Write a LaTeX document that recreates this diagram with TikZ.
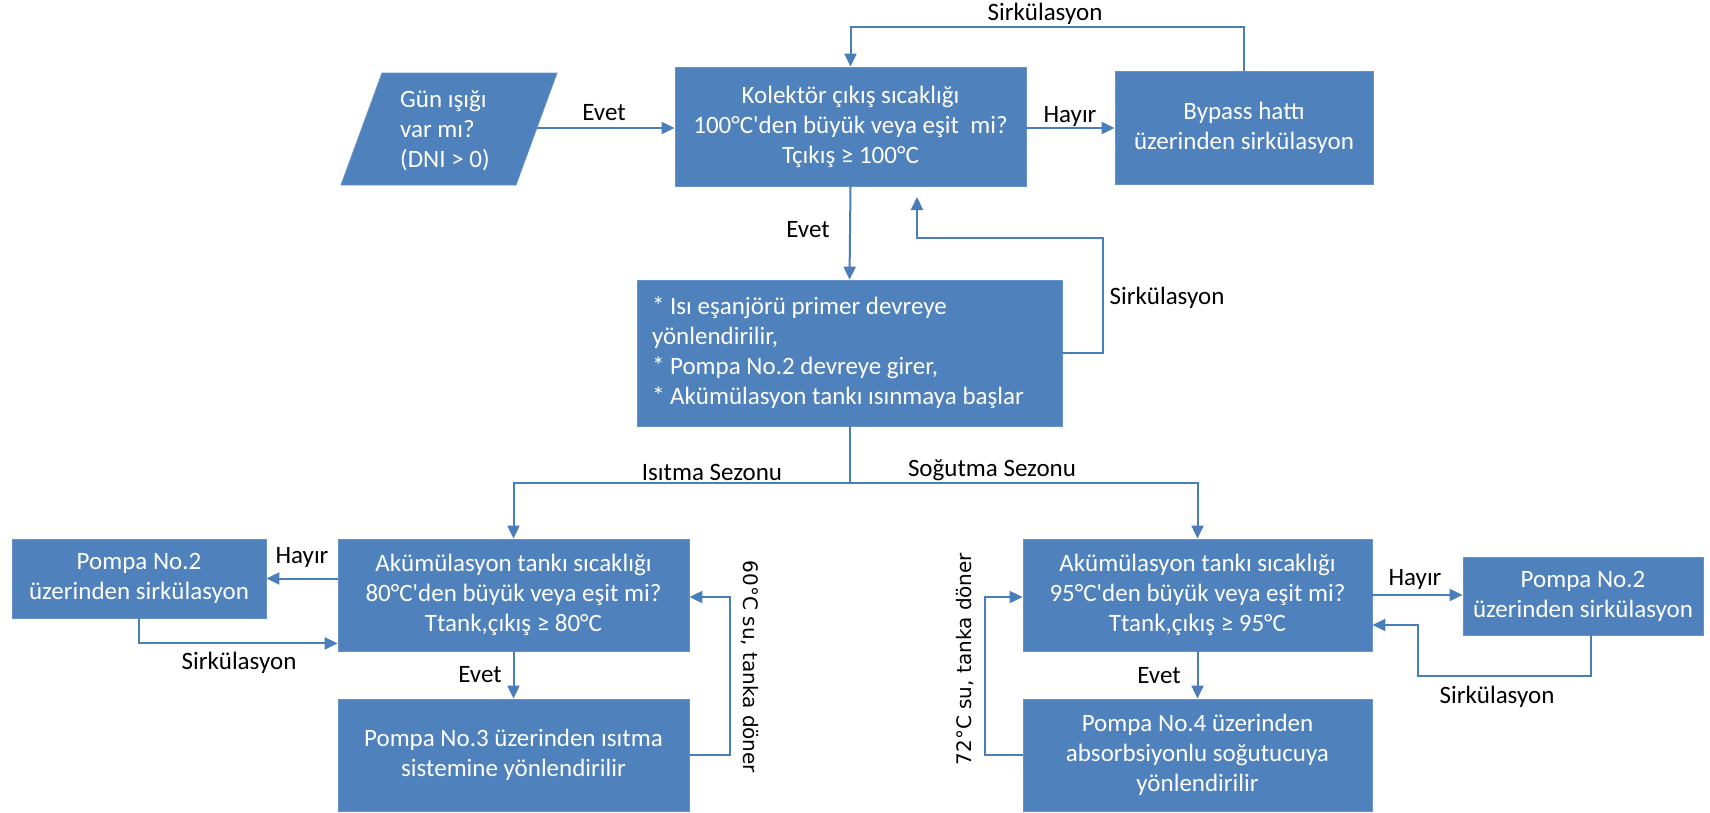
\documentclass[tikz,border=0pt]{standalone}
\usepackage{fontspec}
\setmainfont{Carlito}[Ligatures=TeXOff]
\newfontfamily\dvsans{DejaVu Sans}
\usetikzlibrary{arrows.meta}
\definecolor{boxblue}{HTML}{4F81BD}
\definecolor{boxedge}{HTML}{6792C9}
\definecolor{linkblue}{HTML}{4A7EBB}

\begin{document}
\begin{tikzpicture}[x=1pt,y=-1pt,
  every node/.style={font=\fontsize{25}{30}\selectfont},
  box/.style={fill=boxblue, draw=boxedge, line width=0.8pt, text=white, align=center, inner sep=0pt},
  link/.style={draw=linkblue, line width=2pt},
  conn/.style={link, -{Triangle[length=13pt,width=12pt]}},
  lbl/.style={text=black, inner sep=0pt},
  sidelbl/.style={text=black, inner sep=0pt, font=\dvsans\fontsize{20}{24}\selectfont},
]
% canvas
\fill[white] (0,0) rectangle (1710,812);
\useasboundingbox (0,0) rectangle (1710,812);

% ---- top row ----
\fill[boxblue, draw=boxedge, line width=0.8pt] (382,73) -- (557,73) -- (516,185) -- (341,185) -- cycle;
\coordinate (gun-e) at (537,128);
\node[lbl, text=white, anchor=west, align=left] (gun) at (400,131) {Gün ışığı\\var mı?\\(DNI > 0)};

\node[box, minimum width=351pt, minimum height=119pt] (kol) at (850.5,126.5)
  {Kolektör çıkış sıcaklığı\\100°C'den büyük veya eşit\ \ mi?\\Tçıkış ≥ 100°C};
\node[box, minimum width=258pt, minimum height=113pt] (byp) at (1244,127.5)
  {Bypass hattı\\üzerinden sirkülasyon};

% ---- middle ----
\node[box, text width=395pt, align=flush left, inner xsep=15pt, minimum height=146pt] (mid) at (849.5,353)
  {* Isı eşanjörü primer devreye\\{}yönlendirilir,\\{}* Pompa No.2 devreye girer,\\{}* Akümülasyon tankı ısınmaya başlar};

% ---- heating branch ----
\node[box, minimum width=351pt, minimum height=112pt] (ldec) at (513.5,595)
  {Akümülasyon tankı sıcaklığı\\80°C'den büyük veya eşit mi?\\Ttank,çıkış ≥ 80°C};
\node[box, minimum width=254pt, minimum height=79pt] (lp2) at (139,578.5)
  {Pompa No.2\\üzerinden sirkülasyon};
\node[box, minimum width=351pt, minimum height=112pt] (lp3) at (513.5,755)
  {Pompa No.3 üzerinden ısıtma\\sistemine yönlendirilir};

% ---- cooling branch ----
\node[box, minimum width=349pt, minimum height=112pt] (rdec) at (1197.5,595)
  {Akümülasyon tankı sıcaklığı\\95°C'den büyük veya eşit mi?\\Ttank,çıkış ≥ 95°C};
\node[box, minimum width=240pt, minimum height=78pt] (rp2) at (1583,596)
  {Pompa No.2\\üzerinden sirkülasyon};
\node[box, minimum width=349pt, minimum height=112pt] (rp4) at (1197.5,755)
  {Pompa No.4 üzerinden\\absorbsiyonlu soğutucuya\\yönlendirilir};

% ---- routing points ----
\coordinate (loop-top) at (1244,27);
\coordinate (kol-ret) at (917,197);
\coordinate (mid-loop) at (1103,238);
\coordinate (split) at (849.5,483);
\coordinate (r-loop) at (1418,676);

% ---- connectors ----
\draw[conn] (gun-e) -- (kol.west |- gun-e);
\draw[conn] (kol.east |- 0,128) -- (byp.west |- 0,128);
\draw[conn] (byp.north) -- (loop-top) -| (kol.north);
\draw[conn] (kol.south) -- (mid.north);
\draw[conn] (mid.east) -| (mid-loop) -| (kol-ret);
\draw[link] (mid.south) -- (split);
\draw[conn] (split) -| (ldec.north);
\draw[conn] (split) -| (rdec.north);

\draw[conn] (ldec.west |- lp2.east) -- (lp2.east);
\draw[conn] (lp2.south) |- ([yshift=8pt]ldec.south west);
\draw[conn] (ldec.south) -- (lp3.north);
\draw[conn] (lp3.east) -- ++(41,0) |- ([yshift=-2pt]ldec.east);

\draw[conn] (rdec.east) -- (rdec.east -| rp2.west);
\draw[conn] ([xshift=8pt]rp2.south) |- (r-loop) |- ([yshift=-30pt]rdec.east);
\draw[conn] (rdec.south) -- (rp4.north);
\draw[conn] (rp4.west) -- ++(-38,0) |- ([yshift=-2pt]rdec.west);

% ---- labels ----
\node[lbl] (l-top) at (1045,14) {Sirkülasyon};
\node[lbl] (l-evet1) at (604,113) {Evet};
\node[lbl] (l-hayir1) at (1070,116) {Hayır};
\node[lbl] (l-evet2) at (808,230) {Evet};
\node[lbl] (l-sirk2) at (1167,298) {Sirkülasyon};
\node[lbl] (l-isitma) at (712,472) {Isıtma Sezonu};
\node[lbl] (l-sogutma) at (992,470) {Soğutma Sezonu};
\node[lbl] (l-hayir2) at (302,557) {Hayır};
\node[lbl] (l-sirk3) at (239,663) {Sirkülasyon};
\node[lbl] (l-evet3) at (480,675) {Evet};
\node[sidelbl, rotate=-90] (l-60) at (750,667) {60°C su, tanka döner};
\node[sidelbl, rotate=90] (l-72) at (965,659) {72°C su, tanka döner};
\node[lbl] (l-hayir3) at (1415,579) {Hayır};
\node[lbl] (l-sirk4) at (1497,697) {Sirkülasyon};
\node[lbl] (l-evet4) at (1159,676) {Evet};
\end{tikzpicture}
\end{document}
